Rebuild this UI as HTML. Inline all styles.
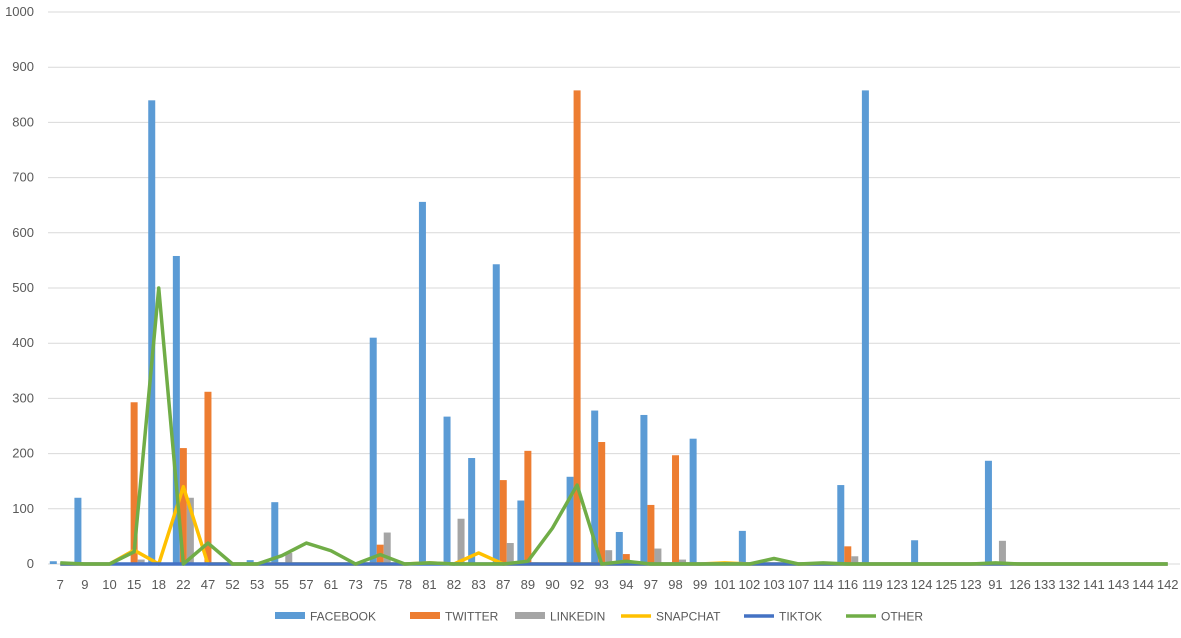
<!DOCTYPE html>
<html><head><meta charset="utf-8"><style>
body{margin:0;background:#fff;}
svg{display:block;font-family:"Liberation Sans",sans-serif;}
</style></head><body>
<svg id="chart" width="1181" height="638" viewBox="0 0 1181 638"></svg>
<script>
const categories=["7","9","10","15","18","22","47","52","53","55","57","61","73","75","78","81","82","83","87","89","90","92","93","94","97","98","99","101","102","103","107","114","116","119","123","124","125","123","91","126","133","132","141","143","144","142"];
const facebook=[5,120,0,0,840,558,0,0,7,112,0,0,0,410,0,656,267,192,543,115,0,158,278,58,270,0,227,0,60,0,0,0,143,858,0,43,0,0,187,0,0,0,0,0,0,0];
const twitter=[0,0,0,293,0,210,312,0,0,0,0,0,0,35,0,0,0,0,152,205,0,858,221,18,107,197,0,0,0,0,0,0,32,0,0,0,0,0,0,0,0,0,0,0,0,0];
const linkedin=[0,0,0,8,0,120,0,0,0,20,0,0,0,57,0,0,82,0,38,3,0,0,25,0,28,8,0,0,0,0,0,0,14,0,0,0,0,0,42,0,0,0,0,0,0,0];
const snapchat=[0,0,0,25,0,140,0,0,0,0,0,0,0,0,0,2,0,20,0,0,0,0,0,0,0,0,0,2,0,0,0,0,0,0,0,0,0,0,0,0,0,0,0,0,0,0];
const tiktok=[0,0,0,0,0,0,0,0,0,0,0,0,0,0,0,0,0,0,0,0,0,0,0,0,0,0,0,0,0,0,0,0,0,0,0,0,0,0,0,0,0,0,0,0,0,0];
const other=[2,0,0,22,500,0,38,0,0,15,38,24,0,17,0,2,0,0,0,5,65,143,0,5,0,0,0,0,0,10,0,2,0,0,0,0,0,0,2,0,0,0,0,0,0,0];
const yTicks=[0,100,200,300,400,500,600,700,800,900,1000];

const NS="http://www.w3.org/2000/svg";
const svg=document.getElementById('chart');
const left=48,right=1180,y0=564,y1=12,yMax=1000;
const step=(right-left)/categories.length;
const y=v=>y0-(v/yMax)*(y0-y1);
const xc=i=>left+step*(i+0.5);
function mk(tag,attrs){const e=document.createElementNS(NS,tag);for(const k in attrs)e.setAttribute(k,attrs[k]);svg.appendChild(e);return e;}

yTicks.forEach(t=>{
  const g=mk('line',{x1:left,x2:right,y1:y(t),y2:y(t),stroke:'#d9d9d9','stroke-width':1});
  
  
  const tx=mk('text',{x:34,y:y(t)+4,'text-anchor':'end','font-size':13,fill:'#595959'});
  tx.textContent=t;
  
  
});
categories.forEach((c,i)=>{
  const tx=mk('text',{x:xc(i),y:589,'text-anchor':'middle','font-size':13,fill:'#595959'});
  tx.textContent=c;
  
  
});
const bw=7;
[[facebook,'#5b9bd5','bar-facebook'],[twitter,'#ed7d31','bar-twitter'],[linkedin,'#a5a5a5','bar-linkedin']].forEach((s,k)=>{
  s[0].forEach((v,i)=>{
    if(v<=0)return;
    const r=mk('rect',{x:xc(i)-10.5+k*bw,y:y(v),width:bw,height:y0-y(v),fill:s[1]});
    
    
  });
});
[[snapchat,'#ffc000','line-snapchat'],[tiktok,'#4472c4','line-tiktok'],[other,'#70ad47','line-other']].forEach(s=>{
  const p=mk('polyline',{points:s[0].map((v,i)=>xc(i)+','+y(v)).join(' '),fill:'none',stroke:s[1],'stroke-width':3.5,'stroke-linejoin':'round'});
  
  
});
const legend=[['FACEBOOK','#5b9bd5','bar',275],['TWITTER','#ed7d31','bar',410],['LINKEDIN','#a5a5a5','bar',515],['SNAPCHAT','#ffc000','line',621],['TIKTOK','#4472c4','line',744],['OTHER','#70ad47','line',846]];
legend.forEach(l=>{
  let sw;
  if(l[2]==='bar') sw=mk('rect',{x:l[3],y:612,width:30,height:7,fill:l[1]});
  else sw=mk('line',{x1:l[3],x2:l[3]+30,y1:616,y2:616,stroke:l[1],'stroke-width':3.5});
  
  
  const tx=mk('text',{x:l[3]+35,y:620.5,'font-size':12,fill:'#595959'});
  tx.textContent=l[0];
  
  
});
</script>
</body></html>
